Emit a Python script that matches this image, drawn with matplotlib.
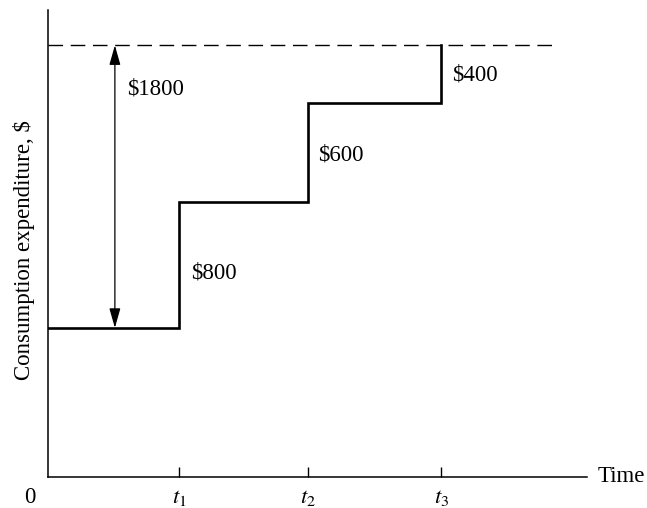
import matplotlib
matplotlib.use("Agg")
import matplotlib.pyplot as plt

# step times (in units of t1) and consumption levels
times = [0.0, 1.0, 1.98, 3.0]
levels = [950, 1750, 2380, 2750]
step_labels = ["$800", "$600", "$400"]
total_label = "$1800"
tick_labels = [r"$t_1$", r"$t_2$", r"$t_3$"]

plt.rcParams["font.family"] = ["Liberation Serif", "DejaVu Serif"]
plt.rcParams["mathtext.fontset"] = "stix"
plt.rcParams["lines.scale_dashes"] = False

W, H = 647, 508
fig = plt.figure(figsize=(W / 100, H / 100), dpi=100)
# axes box in pixels: left 48, right 587, top 10, bottom 477
ax = fig.add_axes([48 / W, (H - 477) / H, (587 - 48) / W, (477 - 10) / H])

fs = 16.5

ax.plot(times, levels, drawstyle="steps-post", color="black", lw=1.9,
        solid_joinstyle="miter")
ax.plot([0, 3.87], [levels[-1], levels[-1]], color="black", lw=1.0,
        dashes=[10.5, 5.5])

# double arrow showing total change
ax.annotate("", xy=(0.51, levels[-1]), xytext=(0.51, levels[0]),
            arrowprops=dict(arrowstyle="<|-|>,head_length=0.6,head_width=0.17",
                            mutation_scale=20, color="black", lw=0.9,
                            shrinkA=0, shrinkB=0))
ax.text(0.6, levels[-1] - 280, total_label, fontsize=fs,
        va="center", ha="left")

# step size labels
ax.text(times[1] + 0.09, levels[0] + 350, step_labels[0], fontsize=fs, va="center")
ax.text(times[2] + 0.08, levels[1] + 300, step_labels[1], fontsize=fs, va="center")
ax.text(times[3] + 0.08, levels[2] + 180, step_labels[2], fontsize=fs, va="center")

ax.set_xlim(0, 4.11)
ax.set_ylim(0, 2975)
for s in ["top", "right"]:
    ax.spines[s].set_visible(False)
for s in ["left", "bottom"]:
    ax.spines[s].set_linewidth(1.1)

ax.set_xticks(times[1:])
ax.set_xticklabels(tick_labels, fontsize=fs)
ax.tick_params(axis="x", direction="in", length=7.5, width=1.0, pad=7)
ax.set_yticks([])

ax.set_ylabel("Consumption expenditure, $", fontsize=fs)
ax.yaxis.set_label_coords(-0.025, 0.486)

ax.text(-0.033, -0.043, "0", transform=ax.transAxes, fontsize=fs,
        ha="center", va="center")
ax.text(1.02, 0, "Time", transform=ax.transAxes, fontsize=fs,
        ha="left", va="center")

fig.savefig("out.png", dpi=100)
